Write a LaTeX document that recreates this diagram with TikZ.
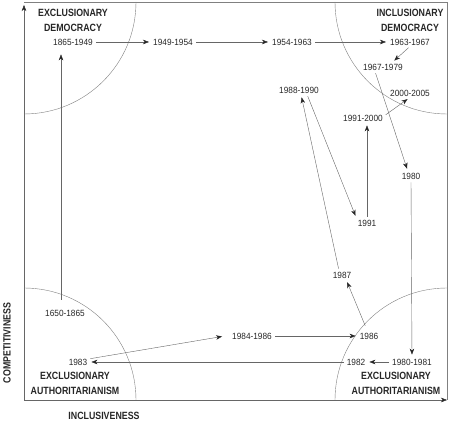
\documentclass[tikz,border=0pt]{standalone}
\usepackage{fontspec}
\newfontfamily\yearfont[FakeStretch=0.92]{Liberation Sans}
\newfontfamily\headfont[FakeStretch=0.84]{Liberation Sans}
\usepackage{tikz}
\usetikzlibrary{arrows, arrows.meta}
\usepackage{xcolor}
\tikzset{>={Stealth[length=6pt, width=4.5pt, inset=1.8pt, color=black!85]}}

\begin{document}
\begin{tikzpicture}[x=1pt, y=1pt]
        % four regimes in the corners, periods joined in time order
        \tikzstyle{every node}=[inner sep=1pt, text=black!85, font=\yearfont\fontsize{9}{10}\selectfont]
        \tikzstyle{regime}=[align=center, font=\headfont\bfseries\fontsize{10.5}{15}\selectfont]
        \tikzstyle{every edge}=[draw, black!60, ->, thin, shorten <=2pt, shorten >=3pt]
        \useasboundingbox (0,0) rectangle (450,422);

        \coordinate (O) at (24,22);
        \coordinate (T) at (24,420);
        \coordinate (R) at (447,22);
        \coordinate (TR) at (447,420);
        \draw[black!60, ->] (O) -- ([yshift=-3pt]T);
        \draw[black!60, ->] (O) -- (R);
        \draw[black!50] (T) -- (TR) -- (R);

        \draw[black!50] ([yshift=-112pt]T) arc[start angle=-90, end angle=0, radius=112];
        \draw[black!50] ([xshift=-112pt]TR) arc[start angle=180, end angle=270, radius=112];
        \draw[black!50] ([yshift=112pt]O) arc[start angle=90, end angle=0, radius=112];
        \draw[black!50] ([xshift=-112pt]R) arc[start angle=180, end angle=90, radius=112];

        \node[regime] (ED) at (73,402) {EXCLUSIONARY\\DEMOCRACY};
        \node[regime] (ID) at (410,402) {INCLUSIONARY\\DEMOCRACY};
        \node[regime] (EAL) at (75,39) {EXCLUSIONARY\\AUTHORITARIANISM};
        \node[regime] (EAR) at (396,39) {EXCLUSIONARY\\AUTHORITARIANISM};
        \node[regime, rotate=90] (CMP) at (7,79) {COMPETITIVINESS};
        \node[regime] (INC) at (104,6) {INCLUSIVENESS};

        \node (Y1650) at (65,109) {1650-1865};
        \node (Y1865) at (73,380) {1865-1949};
        \node (Y1949) [right of=Y1865, node distance=100pt] {1949-1954};
        \node (Y1954) [right of=Y1949, node distance=119pt] {1954-1963};
        \node (Y1963) [right of=Y1954, node distance=118pt] {1963-1967};
        \node (Y1967) at (383,355) {1967-1979};
        \node (Y1980) at (411,246) {1980};
        \node (Y1981) at (412,60) {1980-1981};
        \node (Y1982) [left of=Y1981, node distance=56pt] {1982};
        \node (Y1983) at (78,60) {1983};
        \node (Y1984) at (252,86) {1984-1986};
        \node (Y1986) [right of=Y1984, node distance=117pt] {1986};
        \node (Y1987) at (342,147) {1987};
        \node (Y1988) at (299,332) {1988-1990};
        \node (Y1991) at (367,199) {1991};
        \node (Y1992) at (363,304) {1991-2000};
        \node (Y2000) at (410,329) {2000-2005};

        \draw ([shift={(-4pt,7pt)}]Y1650.north) edge ([shift={(-12pt,-5pt)}]Y1865.south);
        \draw (Y1865) edge (Y1949);
        \draw (Y1949) edge (Y1954);
        \draw (Y1954) edge (Y1963);
        \draw (Y1963.south) edge ([xshift=9pt]Y1967.north);
        \draw ([xshift=-8pt]Y1967.south) edge ([xshift=-3pt]Y1980.north);
        \draw (Y1980.south) edge (Y1981.north);
        \draw (Y1981) edge (Y1982);
        \draw (Y1982) edge (Y1983);
        \draw ([yshift=3pt]Y1983.east) edge ([xshift=-6pt]Y1984.west);
        \draw (Y1984) edge (Y1986);
        \draw ([shift={(-3pt,4pt)}]Y1986.north) edge ([xshift=4pt]Y1987.south);
        \draw ([xshift=-3pt]Y1987.north) edge ([xshift=2pt]Y1988.south);
        \draw ([xshift=8pt]Y1988.south) edge (Y1991.north west);
        \draw (Y1991.north) edge (Y1991.north |- Y1992.south);
        \draw ([yshift=2pt]Y1992.east) edge (Y2000.south);
\end{tikzpicture}
\end{document}
